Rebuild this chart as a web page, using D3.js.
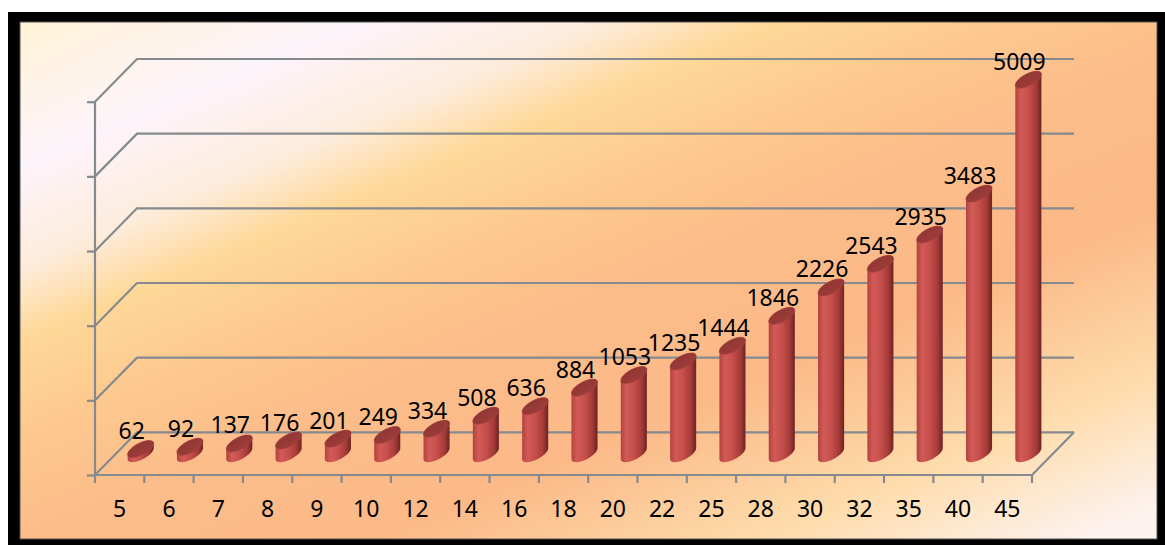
<!DOCTYPE html>
<html>
<head>
<meta charset="utf-8">
<script src="https://cdn.jsdelivr.net/npm/d3@7"></script>
<style>
  html, body { margin: 0; padding: 0; background: #ffffff; }
  svg { display: block; }
  text { font-family: "Noto Sans", "Open Sans", sans-serif; }
</style>
</head>
<body>
<svg id="chart" width="1165" height="545"></svg>
<script>
// Sizes of the sample groups and the count recorded for each
const categories = ["5", "6", "7", "8", "9", "10", "12", "14", "16", "18", "20", "22", "25", "28", "30", "32", "35", "40", "45"];
const values = [62, 92, 137, 176, 201, 249, 334, 508, 636, 884, 1053, 1235, 1444, 1846, 2226, 2543, 2935, 3483, 5009];
const gridValues = [0, 1000, 2000, 3000, 4000, 5000];

const svg = d3.select("#chart");
const W = 1165, H = 545;

// Oblique depth of the 3-D box
const depth = { dx: 42, dy: -42.7 };

// Background panel with black frame
const defs = svg.append("defs");
const bg = defs.append("linearGradient")
  .attr("id", "panelFill")
  .attr("gradientUnits", "userSpaceOnUse")
  .attr("x1", 0).attr("y1", 0).attr("x2", 366).attr("y2", 871);
[
  [0.03, "#fff3d6"], [0.17, "#fdf4fb"], [0.27, "#fdecdc"], [0.34, "#fed898"],
  [0.43, "#fdc98f"], [0.53, "#fcbd8a"], [0.68, "#fbb988"], [0.84, "#fedcac"],
  [0.97, "#fdf2ee"]
].forEach(([o, c]) => bg.append("stop").attr("offset", o).attr("stop-color", c));

const body = defs.append("linearGradient")
  .attr("id", "cylBody").attr("x1", 0).attr("y1", 0).attr("x2", 1).attr("y2", 0);
[
  [0, "#b4423f"], [0.22, "#d25b57"], [0.5, "#c64f4c"], [0.8, "#a53b38"], [1, "#6c2321"]
].forEach(([o, c]) => body.append("stop").attr("offset", o).attr("stop-color", c));

const topFill = defs.append("linearGradient")
  .attr("id", "cylTop").attr("x1", 0).attr("y1", 0).attr("x2", 1).attr("y2", 1);
[
  [0, "#8c3432"], [1, "#a13f3c"]
].forEach(([o, c]) => topFill.append("stop").attr("offset", o).attr("stop-color", c));

svg.append("rect").attr("x", 8).attr("y", 12).attr("width", W - 8).attr("height", H - 12).attr("fill", "#000");
svg.append("rect").attr("x", 20).attr("y", 22).attr("width", 1137).attr("height", 517)
  .attr("fill", "url(#panelFill)").attr("stroke", "#555").attr("stroke-width", 1);

// Scales
const x = d3.scaleBand().domain(categories).range([95, 1032]).padding(0);
const y = d3.scaleLinear().domain([0, 5000]).range([475, 101.7]);

const gridColor = "#858a8e";
const grid = svg.append("g").attr("fill", "none").attr("stroke", gridColor).attr("stroke-width", 2.2);

// Back-wall gridlines and side-wall diagonals
gridValues.forEach(v => {
  const fy = y(v);
  grid.append("path")
    .attr("d", `M${x.range()[0]},${fy} L${x.range()[0] + depth.dx},${fy + depth.dy} L${x.range()[1] + depth.dx},${fy + depth.dy}`);
});

// Floor: front edge and right edge
grid.append("path")
  .attr("d", `M${x.range()[0]},${y(0)} L${x.range()[1]},${y(0)} L${x.range()[1] + depth.dx},${y(0) + depth.dy}`);

// Vertical value axis (ticks without labels)
const yAxis = svg.append("g")
  .attr("transform", `translate(${x.range()[0]},0)`)
  .call(d3.axisLeft(y).tickValues(gridValues).tickSize(8).tickFormat(""));
yAxis.selectAll("path, line").attr("stroke", gridColor).attr("stroke-width", 2.2);
yAxis.select(".domain").attr("d", `M0,${y(5000)}V${y(0)}`);

// Category ticks at band boundaries
const bounds = categories.map(c => x(c)).concat([x.range()[1]]);
svg.append("g").selectAll("line").data(bounds).join("line")
  .attr("x1", d => d).attr("x2", d => d)
  .attr("y1", y(0)).attr("y2", y(0) + 8)
  .attr("stroke", gridColor).attr("stroke-width", 2.2);

// Category labels
svg.append("g").selectAll("text").data(categories).join("text")
  .attr("x", d => x(d) + x.bandwidth() / 2)
  .attr("y", 517)
  .attr("text-anchor", "middle")
  .attr("font-size", 23)
  .attr("fill", "#000")
  .text(d => d);

// Cylinders, placed at mid-depth of the box
const rx = 10, rd = 8.5;               // radius across and along the depth axis
const depthRatio = depth.dx / -depth.dy;
const thetaL = Math.PI + Math.atan2(rd * depthRatio, rx);
const thetaR = Math.atan2(rd * depthRatio, rx);

function ell(cx, cy, t) {
  return [cx + rx * Math.cos(t) + rd * depthRatio * Math.sin(t), cy - rd * Math.sin(t)];
}

const line = d3.line();
const bars = svg.append("g");

categories.forEach((c, i) => {
  const cx = x(c) + x.bandwidth() / 2 + depth.dx / 2;
  const base = y(0) + depth.dy / 2;
  const top = y(values[i]) + depth.dy / 2;
  const n = 40;

  // Silhouette: over the back of the top, down the right side, round the front of the base
  const pts = [];
  for (let k = 0; k <= n; k++) {
    const t = thetaL - (thetaL - thetaR) * k / n;
    pts.push(ell(cx, top, t));
  }
  for (let k = 0; k <= n; k++) {
    const t = thetaR + 2 * Math.PI - Math.PI * k / n;
    pts.push(ell(cx, base, t));
  }
  bars.append("path").attr("d", line(pts) + "Z").attr("fill", "url(#cylBody)");

  const cap = d3.range(0, 2 * Math.PI + 0.001, 2 * Math.PI / 60).map(t => ell(cx, top, t));
  bars.append("path").attr("d", line(cap) + "Z").attr("fill", "url(#cylTop)")
    .attr("stroke", "#a8433f").attr("stroke-width", 0.6);
});

// Value labels
svg.append("g").selectAll("text").data(categories).join("text")
  .attr("x", (d, i) => x(d) + x.bandwidth() / 2 + 12)
  .attr("y", (d, i) => y(values[i]) + depth.dy / 2 - 10)
  .attr("text-anchor", "middle")
  .attr("font-size", 23)
  .attr("fill", "#000")
  .text((d, i) => values[i]);
</script>
</body>
</html>
